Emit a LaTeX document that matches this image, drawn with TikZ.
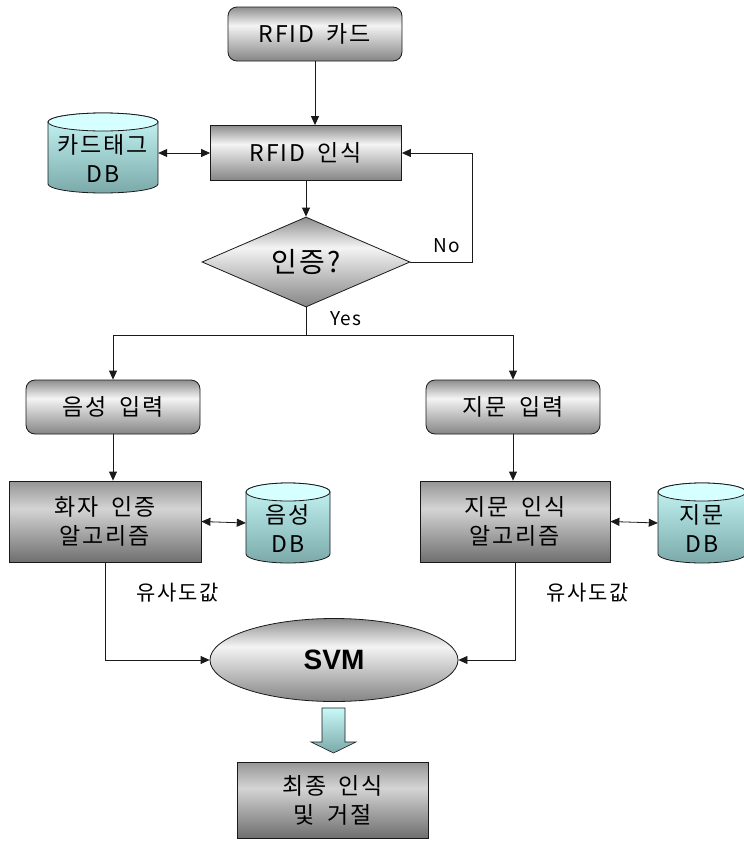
\documentclass[tikz,border=0pt]{standalone}
\usepackage{fontspec}
\usepackage{xcolor}
\usepackage{tikz}
\usetikzlibrary{shapes.geometric,arrows.meta}
\newfontfamily\kr[LetterSpace=8,WordSpace=1.8]{Noto Sans CJK KR}
\newfontfamily\svmfont{Liberation Sans}
\definecolor{wire}{HTML}{1A1A1A}
\definecolor{silvlo}{HTML}{858585}
\definecolor{silvmid}{HTML}{F4F4F4}
\definecolor{silvhi}{HTML}{8E8E8E}
\definecolor{steello}{HTML}{6F6F6F}
\definecolor{steelmid}{HTML}{D4D4D4}
\definecolor{steelhi}{HTML}{959595}
\definecolor{drumtop}{HTML}{D6FFFF}
\definecolor{drumlo}{HTML}{7BA9A9}
\definecolor{drumhi}{HTML}{C8F8F8}

% shadings are fitted to the 25bp--75bp band
\pgfdeclareverticalshading{silver}{100bp}{color(0bp)=(silvlo); color(25bp)=(silvlo); color(58bp)=(silvmid); color(75bp)=(silvhi); color(100bp)=(silvhi)}
\pgfdeclareverticalshading{steel}{100bp}{color(0bp)=(steello); color(25bp)=(steello); color(58bp)=(steelmid); color(75bp)=(steelhi); color(100bp)=(steelhi)}
\pgfdeclareverticalshading{aqua}{100bp}{color(0bp)=(drumlo); color(25bp)=(drumlo); color(75bp)=(drumhi); color(100bp)=(drumhi)}

\tikzset{
  link/.style={draw=wire, line width=0.8pt},
  flow/.style={link, -{Triangle[length=9pt,width=8pt]}},
  twoway/.style={link, {Triangle[length=9pt,width=8pt]}-{Triangle[length=9pt,width=8pt]}},
  boxtext/.style={font={\kr\fontsize{23}{29}\selectfont}, align=center, inner sep=0pt},
  pill/.style={boxtext, draw=wire, line width=0.8pt, rounded corners=9pt, shading=silver, minimum width=174pt, minimum height=54pt},
  plate/.style={boxtext, draw=wire, line width=0.8pt, rectangle, shading=steel, minimum width=191pt, minimum height=81pt},
  gate/.style={diamond, draw=wire, line width=0.8pt, shading=silver, aspect=2.31, minimum width=208pt, minimum height=90pt, inner sep=0pt, font={\kr\fontsize{28}{30}\selectfont}},
  note/.style={font={\kr\fontsize{19}{22}\selectfont}, inner sep=0pt},
}

% database drum: name, x, y, half width, half height, label
\newcommand{\drum}[6]{%
  \shadedraw[shading=aqua, draw=wire, line width=0.8pt]
    (#2-#4,#3-#5+9) -- (#2-#4,#3+#5-9)
    arc[start angle=180, end angle=360, x radius=#4pt, y radius=9pt]
    -- (#2+#4,#3-#5+9)
    arc[start angle=0, end angle=180, x radius=#4pt, y radius=9pt] -- cycle;
  \filldraw[fill=drumtop, draw=wire, line width=0.8pt] (#2,#3-#5+9) ellipse[x radius=#4pt, y radius=9pt];
  \node[inner sep=0pt, minimum width=2*#4pt, minimum height=2*#5pt] (#1) at (#2,#3) {};
  \node[boxtext] (#1-txt) at (#2,#3+5) {#6};
}

\begin{document}
\begin{tikzpicture}[x=1pt,y=-1pt]
  \useasboundingbox (0,0) rectangle (744,841);

  % card check
  \node[pill] (card) at (315,34) {RFID 카드};
  \node[plate, shading=silver, minimum height=55pt] (rfid) at (306,153) {RFID 인식};
  \drum{tagdb}{103}{153}{55}{40}{카드태그\\DB}
  \node[gate] (auth) at (306,262) {인증?};
  \coordinate (retry) at (472,262);
  \coordinate (split) at (306,335);

  \draw[flow] (card.south) -- (card.south |- rfid.north);
  \draw[twoway] (tagdb.east) -- (rfid.west);
  \draw[flow] (rfid.south) -- (auth.north);
  \draw[flow] (auth.east) -- (retry) |- (rfid.east);
  \draw[link] (auth.south) -- (split);
  \node[note] (no) at (447,246) {No};
  \node[note] (yes) at (346,319) {Yes};

  % voice branch
  \node[pill] (voicein) at (113,407) {음성 입력};
  \node[plate, minimum width=192pt] (spkr) at (105,521.5) {화자 인증\\알고리즘};
  \drum{voicedb}{288}{523}{42}{40}{음성\\DB}

  % fingerprint branch
  \node[pill] (fpin) at (513,407) {지문 입력};
  \node[plate, minimum width=190pt] (fpalg) at (515,521.5) {지문 인식\\알고리즘};
  \drum{fpdb}{702}{523}{44}{40}{지문\\DB}

  \draw[flow] (split) -| (voicein.north);
  \draw[flow] (split) -| (fpin.north);
  \draw[flow] (voicein.south) -- (voicein.south |- spkr.north);
  \draw[flow] (fpin.south) -- (fpin.south |- fpalg.north);
  \draw[twoway] (spkr.east) -- (voicedb.west);
  \draw[twoway] (fpalg.east) -- (fpdb.west);

  % fusion
  \node[ellipse, draw=wire, line width=0.8pt, shading=silver, minimum width=248pt, minimum height=83pt, inner sep=0pt, font={\svmfont\bfseries\fontsize{28}{30}\selectfont}] (svm) at (334,660) {SVM};
  \draw[flow] (spkr.south) |- (svm.west);
  \draw[flow] (fpalg.south) |- (svm.east);
  \node[note, font={\kr\fontsize{21}{24}\selectfont}] (simL) at (178,593) {유사도값};
  \node[note, font={\kr\fontsize{21}{24}\selectfont}] (simR) at (588,593) {유사도값};

  \shadedraw[shading=aqua, draw=wire, line width=0.6pt] (322,708) -- (345,708) -- (345,742) -- (356,742)
    -- (333.5,753) -- (311,742) -- (322,742) -- cycle;
  \node[plate, minimum width=191pt, minimum height=76pt] (final) at (332.5,800) {최종 인식\\ 및 거절};
\end{tikzpicture}
\end{document}
